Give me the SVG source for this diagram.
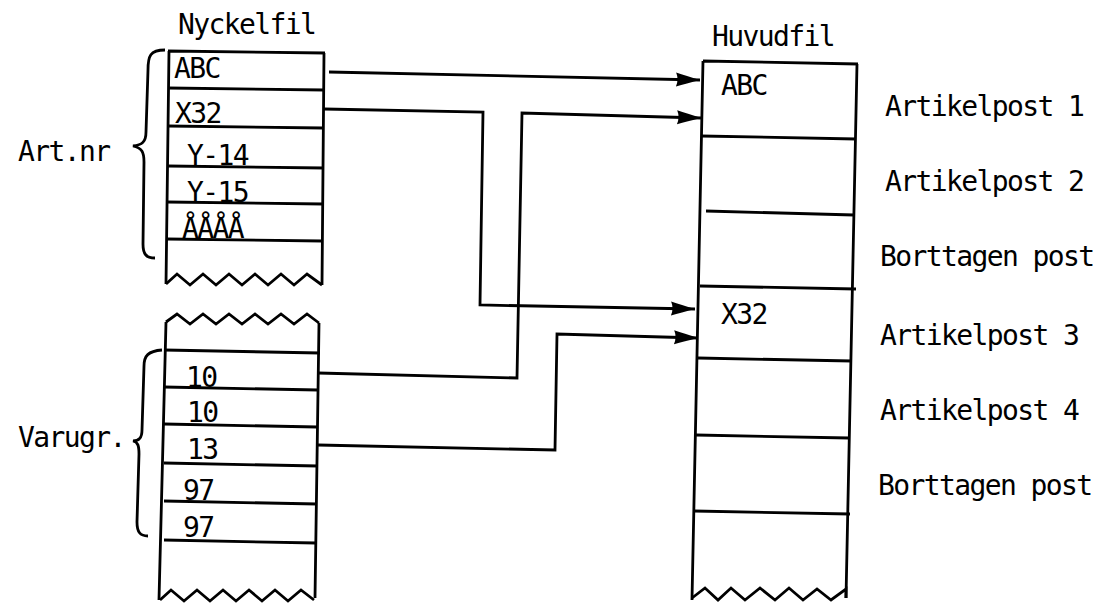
<svg xmlns="http://www.w3.org/2000/svg" width="1119" height="605" viewBox="0 0 1119 605">
<style>
text{font-family:"DejaVu Sans Mono","Liberation Mono",monospace;font-size:28px;letter-spacing:-1.6px;fill:#000}
.ln{stroke:#000;stroke-width:2.8;fill:none;stroke-linejoin:miter}
.cn{stroke:#000;stroke-width:2.8;fill:none;marker-end:url(#ah)}
</style>
<defs>
<marker id="ah" markerUnits="userSpaceOnUse" markerWidth="28" markerHeight="18" refX="24" refY="9" orient="auto">
<path d="M0,2 Q10,5 24,9 Q10,13 0,16 Q3,9 0,2 Z" fill="#000"/>
</marker>
</defs>
<rect width="1119" height="605" fill="#fff"/>

<g id="nyckelfil-upper">
<text x="178" y="34">Nyckelfil</text>
<path class="ln" d="M168,51 L325,53 M169,51 L166,284 M324,53 L322,285"/>
<path class="ln" d="M168,88 L324,90 M168,126 L323,128 M168,166 L324,168 M167,202 L323,204 M167,239 L322,241"/>
<path class="ln" d="M166,284 L177,274 L190,285 L203,274 L216,285 L229,274 L242,285 L255,274 L268,285 L281,274 L294,285 L307,274 L322,285"/>
<text x="174" y="78">ABC</text>
<text x="175" y="123">X32</text>
<text x="187" y="165">Y-14</text>
<text x="187" y="202">Y-15</text>
<text x="182" y="238">ÅÅÅÅ</text>
</g>

<g id="nyckelfil-lower">
<path class="ln" d="M166,322 L177,314 L190,324 L203,314 L216,324 L229,314 L242,324 L255,314 L268,324 L281,314 L294,324 L307,314 L319,323"/>
<path class="ln" d="M166,322 L159,600 M319,323 L315,598"/>
<path class="ln" d="M164,350 L320,353 M164,387 L318,390 M164,424 L317,427 M164,463 L318,466 M164,501 L317,504 M164,540 L316,543"/>
<path class="ln" d="M160,600 L171,590 L184,601 L197,590 L210,601 L223,590 L236,601 L249,590 L262,601 L275,590 L288,601 L301,590 L314,600"/>
<text x="186" y="387">10</text>
<text x="187" y="422">10</text>
<text x="187" y="459">13</text>
<text x="183" y="500">97</text>
<text x="183" y="537">97</text>
</g>

<g id="art-nr">
<text x="18" y="161">Art.nr</text>
<path class="ln" d="M165,50 C150,50 148,56 148,70 L146,132 C146,142 142,145 133,146 C142,148 144,152 144,162 L143,244 C143,254 146,258 155,258"/>
</g>

<g id="varugr">
<text x="18" y="447">Varugr.</text>
<path class="ln" d="M162,350 C148,351 144,356 144,366 L142,430 C142,438 139,441 133,441 C138,442 139,446 139,454 L137,522 C137,532 140,536 148,536"/>
</g>

<g id="huvudfil">
<text x="712" y="46">Huvudfil</text>
<path class="ln" d="M703,61 L858,64 M703,61 L692,600 M857,64 L846,598"/>
<path class="ln" d="M701,136 L856,139 M706,211 L854,215 M700,286 L856,289 M698,358 L852,361 M696,435 L849,438 M694,511 L850,514"/>
<path class="ln" d="M692,598 L705,588 L718,600 L731,588 L745,600 L760,588 L775,600 L789,588 L803,600 L817,589 L831,600 L846,589 L846,598"/>
<text x="721" y="95">ABC</text>
<text x="721" y="324">X32</text>
</g>

<g id="labels">
<text x="885" y="116">Artikelpost 1</text>
<text x="885" y="191">Artikelpost 2</text>
<text x="880" y="266">Borttagen post</text>
<text x="880" y="345">Artikelpost 3</text>
<text x="880" y="420">Artikelpost 4</text>
<text x="878" y="495">Borttagen post</text>
</g>

<g id="connectors">
<path class="cn" d="M329,72 L700,80"/>
<path class="cn" d="M324,109 L483,112 L480,305 L695,309"/>
<path class="cn" d="M318,373 L517,378 L522,113 L701,118"/>
<path class="cn" d="M318,445 L555,450 L557,334 L698,338"/>
</g>
</svg>
